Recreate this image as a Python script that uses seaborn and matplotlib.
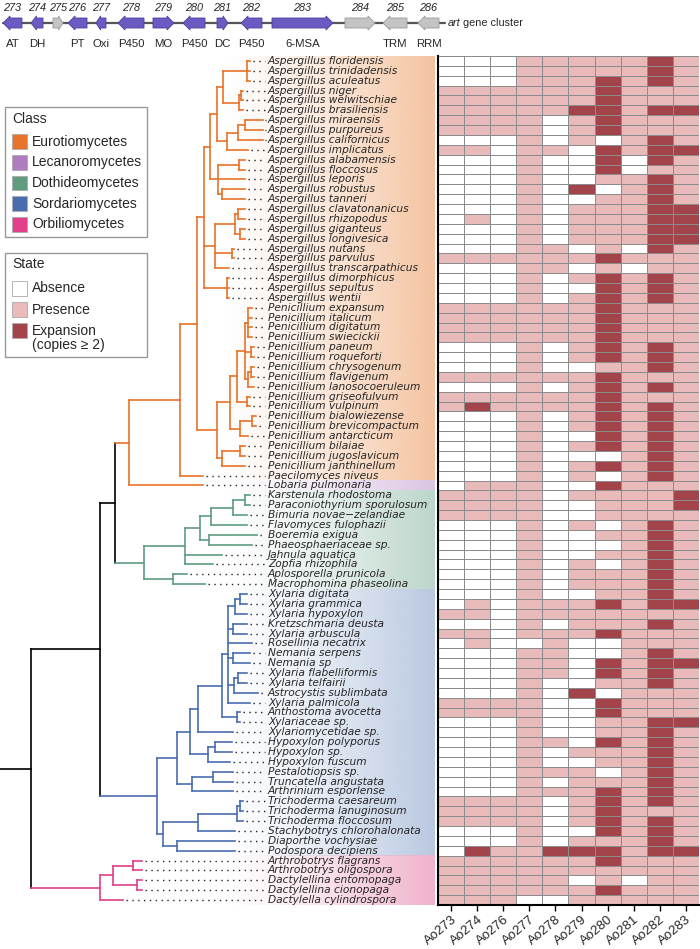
import numpy as np
import pandas as pd
import seaborn as sns
import matplotlib.pyplot as plt
from matplotlib.colors import ListedColormap, to_rgb
from matplotlib.patches import Polygon, Rectangle

sns.set_theme(style="white")
plt.rcParams['font.family'] = ['Liberation Sans', 'DejaVu Sans']

# ---------------- data ----------------
species = [
    "Aspergillus floridensis", "Aspergillus trinidadensis", "Aspergillus aculeatus",
    "Aspergillus niger", "Aspergillus welwitschiae", "Aspergillus brasiliensis",
    "Aspergillus miraensis", "Aspergillus purpureus", "Aspergillus californicus",
    "Aspergillus implicatus", "Aspergillus alabamensis", "Aspergillus floccosus",
    "Aspergillus leporis", "Aspergillus robustus", "Aspergillus tanneri",
    "Aspergillus clavatonanicus", "Aspergillus rhizopodus", "Aspergillus giganteus",
    "Aspergillus longivesica", "Aspergillus nutans", "Aspergillus parvulus",
    "Aspergillus transcarpathicus", "Aspergillus dimorphicus", "Aspergillus sepultus",
    "Aspergillus wentii", "Penicillium expansum", "Penicillium italicum",
    "Penicillium digitatum", "Penicillium swiecickii", "Penicillium paneum",
    "Penicillium roqueforti", "Penicillium chrysogenum", "Penicillium flavigenum",
    "Penicillium lanosocoeruleum", "Penicillium griseofulvum", "Penicillium vulpinum",
    "Penicillium bialowiezense", "Penicillium brevicompactum", "Penicillium antarcticum",
    "Penicillium bilaiae", "Penicillium jugoslavicum", "Penicillium janthinellum",
    "Paecilomyces niveus", "Lobaria pulmonaria", "Karstenula rhodostoma",
    "Paraconiothyrium sporulosum", "Bimuria novae\u2212zelandiae", "Flavomyces fulophazii",
    "Boeremia exigua", "Phaeosphaeriaceae sp.", "Jahnula aquatica",
    "Zopfia rhizophila", "Aplosporella prunicola", "Macrophomina phaseolina",
    "Xylaria digitata", "Xylaria grammica", "Xylaria hypoxylon",
    "Kretzschmaria deusta", "Xylaria arbuscula", "Rosellinia necatrix",
    "Nemania serpens", "Nemania sp", "Xylaria flabelliformis",
    "Xylaria telfairii", "Astrocystis sublimbata", "Xylaria palmicola",
    "Anthostoma avocetta", "Xylariaceae sp.", "Xylariomycetidae sp.",
    "Hypoxylon polyporus", "Hypoxylon sp.", "Hypoxylon fuscum",
    "Pestalotiopsis sp.", "Truncatella angustata", "Arthrinium esporlense",
    "Trichoderma caesareum", "Trichoderma lanuginosum", "Trichoderma floccosum",
    "Stachybotrys chlorohalonata", "Diaporthe vochysiae", "Podospora decipiens",
    "Arthrobotrys flagrans", "Arthrobotrys oligospora", "Dactylellina entomopaga",
    "Dactylellina cionopaga", "Dactylella cylindrospora",
]

genes = ["Ao273", "Ao274", "Ao276", "Ao277", "Ao278", "Ao279", "Ao280", "Ao281", "Ao282", "Ao283"]

# 0 = absence, 1 = presence, 2 = expansion (one digit per gene)
states = [
    "0001111121", "0001111121", "0001112121", "1111112111", "1111112111",
    "1111122122", "1111012111", "1111012111", "0001010121", "1101102122",
    "0001002021", "0001002011", "0001001121", "0001020121", "0001001121",
    "0001011122", "0101011122", "0001011122", "0001011122", "0001101021",
    "1111112111", "0001101011", "0001012121", "0001002121", "0001012121",
    "1111112111", "1111112111", "1111112111", "1111112111", "0001012121",
    "0001012121", "0001001121", "1111112111", "0001012121", "1111112111",
    "1211112121", "0001012121", "0001012121", "0001002121", "0001012121",
    "0001000121", "0001012121", "0001010121", "0111002111", "1111011112",
    "1111001112", "1111001111", "0001010121", "0001001121", "0001000121",
    "0001001121", "0001010121", "0001011121", "0001011121", "0001001121",
    "0101112122", "1101111111", "0001011121", "1101112111", "0100100111",
    "0001100121", "0001102122", "0001102121", "0001001121", "0001020111",
    "1111002111", "1111002111", "0001001122", "0001001121", "0001102121",
    "0001011121", "0001001121", "0001110121", "0001011121", "0001112121",
    "1111012121", "1111012111", "1111012121", "0001002121", "0001011121",
    "0211222122", "1111112111", "1111111111", "1111101011", "1111112111",
    "1110011111",
]

class_names = ["Eurotiomycetes", "Lecanoromycetes", "Dothideomycetes", "Sordariomycetes", "Orbiliomycetes"]
class_sizes = [43, 1, 10, 27, 5]
class_colors = ["#e8732a", "#b07cc0", "#5f9c80", "#4a6db0", "#e2408a"]
class_bg = ["#f4c3a0", "#dcc4e4", "#bcd6cb", "#b9c8e1", "#f0b2cc"]

state_names = ["Absence", "Presence", "Expansion"]
state_colors = ["#ffffff", "#e9baba", "#a3444a"]

# art gene cluster
gene_ids = ["273", "274", "275", "276", "277", "278", "279", "280", "281", "282", "283", "284", "285", "286"]
gene_func = ["AT", "DH", "", "PT", "Oxi", "P450", "MO", "P450", "DC", "P450", "6-MSA", "", "TRM", "RRM"]
gene_start = [3, 31, 53, 68, 96, 118, 153, 183, 217, 241, 272, 345, 383, 418]
gene_end = [22, 43, 63, 87, 106, 144, 174, 205, 228, 262, 333, 375, 407, 439]
gene_strand = [-1, -1, 1, -1, -1, -1, 1, -1, 1, -1, 1, 1, -1, -1]
gene_core = [1, 1, 0, 1, 1, 1, 1, 1, 1, 1, 1, 0, 0, 0]

# species tree, newick pieces (leaf = row index)
asp_0_5 = "((0:3,1:3,2:3):24,((3:2,4:2):2,5:4):16)"
asp_6_9 = "(((6:18,7:18):7,8:25):11,9:21)"
asp_a = f"(({asp_0_5}:6,{asp_6_9}:10):7,((10:6,11:6):21,12:27,(13:23,14:23):4):8)"
asp_m = "(((15:7,16:7):3,(17:5,18:5):5):20,(19:2,20:2):17,21:14)"
asp_b = "(22:2,23:2,24:2)"
asp = f"({asp_a}:6,{asp_m}:11,{asp_b}:23)"
pen_y = "((25:4,26:4,27:4,28:4):3,(29:3,30:3):6,((31:3,32:3):3,33:6):3)"
pen_z = f"(({pen_y}:8,(34:3,35:3):10):7,((36:4,37:4):12,38:8):10)"
pen_bot = "((39:5,40:5):18,41:23)"
pen = f"({pen_z}:13,{pen_bot}:5)"
euro_lob = f"((({asp}:7,{pen}:20):17,42:23):51,43:74)"

pleo = "((((44:5,45:5):12,46:14):22,47:36):11,(48:48,49:43):9)"
doth = f"(({pleo}:15,50:37,51:28):41,(52:14,53:32):29)"

xyl_d = "(((54:7,55:7):5,56:12):7,(57:14,58:14):5,59:24,(60:17,61:17):5,((62:9,63:9):4,64:24):6,65:22)"
xyl_b = f"(({xyl_d}:6,(66:3,67:3):15):24,68:35)"
hyp3 = "((69:17,70:17):7,71:22)"
amph = "((72:20,73:20):21,74:41)"
xylariales = f"(({xyl_b}:8,{hyp3}:18):13,{amph}:15)"
hypo_rest = "((((75:3,76:3):3,77:6):39,78:37):35,(79:58,80:58):14)"
sord = f"({xylariales}:20,{hypo_rest}:6)"

orbil = "(((81:9,82:9):20,(83:5,84:5):24):13,85:23)"
tree_newick = f"((({euro_lob}:14,{doth}:29):15,{sord}:57):69,{orbil}:69):31"


def parse_newick(s):
    s = s.replace(" ", "")
    pos = 0

    def node():
        nonlocal pos
        kids = []
        if s[pos] == "(":
            pos += 1
            kids.append(node())
            while s[pos] == ",":
                pos += 1
                kids.append(node())
            pos += 1
        start = pos
        while pos < len(s) and s[pos] not in ":,);":
            pos += 1
        name = s[start:pos]
        length = 0.0
        if pos < len(s) and s[pos] == ":":
            pos += 1
            start = pos
            while pos < len(s) and s[pos] not in ",);":
                pos += 1
            length = float(s[start:pos])
        return {"name": name, "len": length, "kids": kids}

    return node()


row_class = np.repeat(np.arange(len(class_names)), class_sizes)
# the reference draws the Lobaria branch in the Eurotiomycetes colour
tree_class = row_class.copy()
tree_class[43] = 0


def layout(n, x0):
    n["x"] = x0 + n["len"]
    if not n["kids"]:
        r = int(n["name"])
        n["y"] = r + 0.5
        n["rows"] = [r]
    else:
        for k in n["kids"]:
            layout(k, n["x"])
        n["y"] = (n["kids"][0]["y"] + n["kids"][-1]["y"]) / 2
        n["rows"] = [r for k in n["kids"] for r in k["rows"]]
    cls = set(tree_class[n["rows"]])
    n["color"] = class_colors[cls.pop()] if len(cls) == 1 else "black"


# ---------------- figure ----------------
W, H = 700, 949
fig = plt.figure(figsize=(W / 100, H / 100), dpi=100)


def px_axes(x0, y0, x1, y1):
    return fig.add_axes([x0 / W, 1 - y1 / H, (x1 - x0) / W, (y1 - y0) / H])


n_rows = len(species)
label_x = 268

# heatmap
df = pd.DataFrame([[int(c) for c in s] for s in states], index=species, columns=genes)
ax_hm = px_axes(438, 56, 699, 905)
sns.heatmap(df, ax=ax_hm, cmap=ListedColormap(state_colors), vmin=-0.5, vmax=2.5,
            cbar=False, linewidths=0.7, linecolor="#8c8c8c", yticklabels=False)
ax_hm.set_xticklabels(genes, rotation=40, ha="right", rotation_mode="anchor", fontsize=9.5)
ax_hm.tick_params(axis="x", bottom=True, length=4, width=1, color="black", pad=2)
for side in ["left", "bottom"]:
    ax_hm.spines[side].set_visible(True)
    ax_hm.spines[side].set_color("black")
    ax_hm.spines[side].set_linewidth(1.5)
ax_hm.set_xlabel("")
ax_hm.set_ylabel("")

# tree + labels
ax_tr = px_axes(0, 56, 438, 905)
ax_tr.axis("off")

# gradient backgrounds behind the labels
starts = np.concatenate([[0], np.cumsum(class_sizes)[:-1]])
ramp = np.linspace(0, 1, 200) ** 1.3
for st, sz, col in zip(starts, class_sizes, class_bg):
    img = np.zeros((1, 200, 4))
    img[0, :, :3] = to_rgb(col)
    img[0, :, 3] = ramp
    ax_tr.imshow(img, extent=(222, 435, st + sz, st), aspect="auto", zorder=0, interpolation="bilinear")
ax_tr.set_xlim(0, 438)
ax_tr.set_ylim(n_rows, 0)

tree = parse_newick(tree_newick)
layout(tree, 0)


def draw(n, x0):
    ax_tr.plot([x0, n["x"]], [n["y"], n["y"]], color=n["color"], lw=1.2, solid_capstyle="projecting")
    if n["kids"]:
        ax_tr.plot([n["x"], n["x"]], [n["kids"][0]["y"], n["kids"][-1]["y"]], color=n["color"],
                   lw=1.2, solid_capstyle="projecting")
        for k in n["kids"]:
            draw(k, n["x"])
    else:
        ax_tr.plot([n["x"] + 3, label_x - 3], [n["y"], n["y"]], color="#222222", lw=1.0,
                   linestyle=(0, (1, 3.2)))


draw(tree, 0)

for i, name in enumerate(species):
    ax_tr.text(label_x, i + 0.5, name, style="italic", fontsize=7.7, va="center", ha="left",
               family="DejaVu Sans")

# overlay: gene cluster and legends (pixel coordinates)
ax_o = px_axes(0, 0, W, H)
ax_o.set_xlim(0, W)
ax_o.set_ylim(H, 0)
ax_o.axis("off")

gy = 23
ax_o.plot([3, 445], [gy, gy], color="#555555", lw=1.6, zorder=1)
for gid, fn, a, b, sd, core in zip(gene_ids, gene_func, gene_start, gene_end, gene_strand, gene_core):
    L = b - a
    hl = min(7, L * 0.45)
    if sd > 0:
        pts = [(a, gy - 5), (b - hl, gy - 5), (b - hl, gy - 7), (b, gy), (b - hl, gy + 7), (b - hl, gy + 5), (a, gy + 5)]
    else:
        pts = [(b, gy - 5), (a + hl, gy - 5), (a + hl, gy - 7), (a, gy), (a + hl, gy + 7), (a + hl, gy + 5), (b, gy + 5)]
    fc = "#6a5bc3" if core else "#c4c4c4"
    ec = "#4e409e" if core else "#9a9a9a"
    ax_o.add_patch(Polygon(pts, closed=True, facecolor=fc, edgecolor=ec, lw=0.6, zorder=2))
    xc = (a + b) / 2
    ax_o.text(xc, 8, gid, style="italic", fontsize=7.8, ha="center", va="center")
    if fn:
        ax_o.text(xc, 44, fn, fontsize=8.2, ha="center", va="center")
ax_o.text(448, gy, "art", style="italic", fontsize=7.8, ha="left", va="center")
ax_o.text(463, gy, "gene cluster", fontsize=7.8, ha="left", va="center")

# class legend
ax_o.add_patch(Rectangle((5, 107), 142, 130, facecolor="white", edgecolor="#999999", lw=1, zorder=3))
ax_o.text(12, 119, "Class", fontsize=10, ha="left", va="center", zorder=4)
for i, (nm, col) in enumerate(zip(class_names, class_colors)):
    yc = 141.7 + i * 20.65
    ax_o.add_patch(Rectangle((12, yc - 7.3), 15, 14.6, facecolor=col, edgecolor="#aaaaaa", lw=0.6, zorder=4))
    ax_o.text(32, yc, nm, fontsize=10, ha="left", va="center", zorder=4)

# state legend
ax_o.add_patch(Rectangle((5, 253), 142, 104, facecolor="white", edgecolor="#999999", lw=1, zorder=3))
ax_o.text(12, 264, "State", fontsize=10, ha="left", va="center", zorder=4)
for i, (nm, col) in enumerate(zip(state_names, state_colors)):
    yc = 288.3 + i * 21.2
    ax_o.add_patch(Rectangle((12, yc - 7.3), 15, 14.6, facecolor=col, edgecolor="#aaaaaa", lw=0.6, zorder=4))
    ax_o.text(32, yc, nm, fontsize=10, ha="left", va="center", zorder=4)
ax_o.text(32, 345.5, "(copies \u2265 2)", fontsize=10, ha="left", va="center", zorder=4)

fig.savefig("out.png", dpi=100)
